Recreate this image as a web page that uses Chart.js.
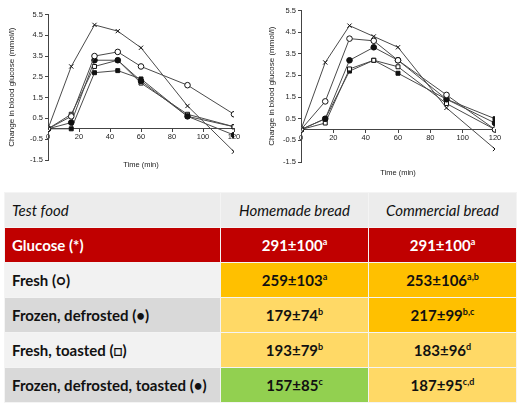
<!DOCTYPE html>
<html>
<head>
<meta charset="utf-8">
<script src="https://cdn.jsdelivr.net/npm/chart.js@4"></script>
<style>
  body { margin: 0; width: 521px; height: 406px; background: #fff; overflow: hidden; position: relative; }
  #c1 { position: absolute; left: 0; top: 0; }
  #c2 { position: absolute; left: 260px; top: 0; }
  table { position: absolute; left: 4px; top: 192px; border-collapse: separate; border-spacing: 1px; background: #f4f4f4;
          font-family: Lato, "Open Sans", sans-serif; font-size: 15px; color: #111; }
  td { height: 34px; padding: 0 0 0 7px; box-sizing: border-box; }
  td.v { text-align: center; font-weight: bold; padding: 0; }
  td.l { font-weight: bold; }
  tr.hd td { background: #ececec; font-style: italic; font-weight: normal; }
  tr.hd td.v { font-weight: normal; }
  sup { font-size: 9px; line-height: 0; }
</style>
</head>
<body>
<canvas id="c1" width="260" height="185"></canvas>
<canvas id="c2" width="261" height="185"></canvas>
<table id="tbl"></table>
<script>
// time points (min)
var times = [0, 15, 30, 45, 60, 90, 120];

// homemade bread (left chart)
var homeGlucose = [0, 3.0, 5.0, 4.7, 3.9, 1.1, -1.1];
var homeFresh = [0, 0.6, 3.5, 3.7, 3.0, 2.1, 0.7];
var homeFrozen = [0, 0.3, 3.3, 3.3, 2.3, 0.6, -0.3];
var homeToasted = [0, 0.7, 3.0, 3.3, 2.2, 0.7, 0.1];
var homeFrozenToasted = [0, 0.0, 2.7, 2.8, 2.4, 0.6, 0.1];

// commercial bread (right chart)
var commGlucose = [0, 3.1, 4.8, 4.3, 3.8, 1.0, -0.9];
var commFresh = [0, 1.3, 4.2, 4.1, 3.2, 1.6, 0.0];
var commFrozen = [0, 0.5, 3.2, 3.8, 3.2, 1.4, 0.3];
var commToasted = [0, 0.3, 2.8, 3.2, 2.9, 1.2, 0.0];
var commFrozenToasted = [0, 0.5, 2.7, 3.2, 2.6, 1.4, 0.5];

var yTicks = [-1.5, 5.5];
var xTicks = [0, 120];

// table
var tableHead = ["Test food", "Homemade bread", "Commercial bread"];
var foods = ["Glucose (*)", "Fresh (\u25CB)", "Frozen, defrosted  (\u2022)", "Fresh, toasted  (\u25A1)", "Frozen, defrosted, toasted  (\u2022)"];
var homeIAUC = ["291\u00B1100", "259\u00B1103", "179\u00B174", "193\u00B179", "157\u00B185"];
var homeSup = ["a", "a", "b", "b", "c"];
var commIAUC = ["291\u00B1100", "253\u00B1106", "217\u00B199", "183\u00B196", "187\u00B195"];
var commSup = ["a", "a,b", "b,c", "d", "c,d"];
var homeColors = ["#c00000", "#ffc000", "#ffd966", "#ffd966", "#92d050"];
var commColors = ["#c00000", "#ffc000", "#ffc000", "#ffd966", "#ffd966"];
var labelColors = ["#c00000", "#f2f2f2", "#d9d9d9", "#f2f2f2", "#d9d9d9"];

function pts(vals) {
    return times.map(function (t, i) { return {x: t, y: vals[i]}; });
}

function series(vals, style, fill) {
    return {
        data: pts(vals),
        borderColor: "#4a4a4a",
        borderWidth: 1,
        pointStyle: style,
        pointRadius: style == 'crossRot' ? 3 : 2.8,
        pointBackgroundColor: fill,
        pointBorderColor: "#111",
        pointBorderWidth: 1,
        tension: 0
    };
}

function makeChart(id, sets, yWidth, top, titleTop, titleBottom) {
    var ctx = document.getElementById(id).getContext('2d');
    return new Chart(ctx, {
        type: 'line',
        data: {
            datasets: [
                series(sets[0], 'crossRot', "#111"),
                series(sets[1], 'circle', "#fff"),
                series(sets[2], 'circle', "#111"),
                series(sets[3], 'rect', "#fff"),
                series(sets[4], 'rect', "#111")
            ]
        },
        options: {
            responsive: false,
            animation: false,
            layout: { padding: { top: top, right: 26, bottom: 0, left: 0 } },
            plugins: { legend: { display: false }, tooltip: { enabled: false } },
            scales: {
                x: {
                    type: 'linear',
                    position: { y: 0 },
                    min: xTicks[0], max: xTicks[1],
                    border: { color: "#444", width: 1 },
                    grid: { display: true, drawOnChartArea: false, tickLength: 3, color: "#444" },
                    ticks: { stepSize: 20, color: "#222", font: { family: "Arial", size: 7.5 }, padding: 1, maxRotation: 0 }
                },
                x2: {
                    type: 'linear',
                    position: 'bottom',
                    min: xTicks[0], max: xTicks[1],
                    border: { display: false },
                    grid: { display: false },
                    ticks: { display: false },
                    title: { display: true, text: 'Time (min)', color: "#222", font: { family: "Arial", size: 7.5, lineHeight: 1.2 },
                             padding: { top: titleTop, bottom: titleBottom } }
                },
                y: {
                    min: yTicks[0], max: yTicks[1],
                    border: { color: "#444", width: 1 },
                    grid: { display: true, drawOnChartArea: false, tickLength: 3, color: "#444" },
                    ticks: { stepSize: 1, color: "#222", font: { family: "Arial", size: 7.5 }, padding: 2 },
                    title: { display: true, text: 'Change in blood glucose (mmol/l)', color: "#222", font: { family: "Arial", size: 8 },
                             padding: { top: 7, bottom: 0 } },
                    afterFit: function (scale) { scale.width = yWidth; }
                }
            }
        }
    });
}

makeChart("c1", [homeGlucose, homeFresh, homeFrozen, homeToasted, homeFrozenToasted], 48, 14.5, -7.5, 15.5);
makeChart("c2", [commGlucose, commFresh, commFrozen, commToasted, commFrozenToasted], 41, 10.5, -1.5, 7.5);

// build the table from the arrays
var tbl = document.getElementById("tbl");
var html = '<tr class="hd"><td style="width:215px">' + tableHead[0] + '</td><td class="v" style="width:147px">' + tableHead[1] +
    '</td><td class="v" style="width:147px">' + tableHead[2] + '</td></tr>';
for (var i = 0; i < foods.length; i++) {
    var txt = i == 0 ? "color:#fff;" : "";
    html += '<tr><td class="l" style="background:' + labelColors[i] + ';' + txt + '">' + foods[i] + '</td>' +
        '<td class="v" style="background:' + homeColors[i] + ';' + txt + '">' + homeIAUC[i] + '<sup>' + homeSup[i] + '</sup></td>' +
        '<td class="v" style="background:' + commColors[i] + ';' + txt + '">' + commIAUC[i] + '<sup>' + commSup[i] + '</sup></td></tr>';
}
tbl.innerHTML = html;
</script>
</body>
</html>
